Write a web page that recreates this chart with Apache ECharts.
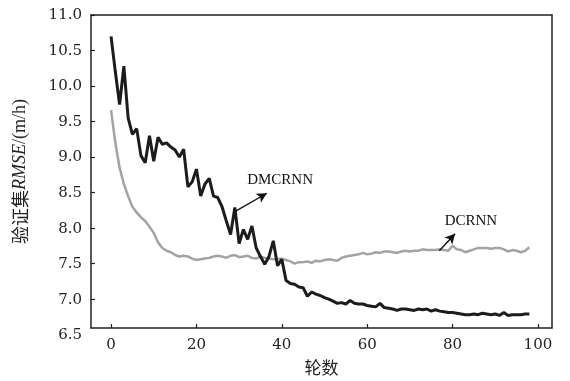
<!DOCTYPE html>
<html>
<head>
<meta charset="utf-8">
<script src="https://cdn.jsdelivr.net/npm/echarts@6/dist/echarts.min.js"></script>
<style>html,body{margin:0;padding:0;background:#fff;}#c{width:570px;height:381px;}</style>
</head>
<body>
<div id="c"></div>
<script>
const epochs = [];
for (let i = 0; i <= 98; i++) epochs.push(i);

const dmcrnn = [10.70,10.20,9.74,10.28,9.55,9.32,9.40,9.02,8.92,9.30,
  8.94,9.28,9.18,9.20,9.14,9.10,9.00,9.11,8.58,8.65,
  8.83,8.45,8.62,8.70,8.45,8.43,8.30,8.10,7.91,8.29,
  7.78,7.98,7.84,8.03,7.72,7.60,7.49,7.60,7.82,7.47,
  7.56,7.26,7.22,7.21,7.17,7.16,7.04,7.10,7.07,7.05,
  7.02,7.00,6.97,6.94,6.95,6.93,6.98,6.94,6.93,6.93,
  6.91,6.90,6.89,6.94,6.88,6.87,6.86,6.84,6.86,6.86,
  6.85,6.84,6.86,6.85,6.86,6.83,6.85,6.83,6.82,6.81,
  6.81,6.80,6.79,6.78,6.78,6.79,6.78,6.80,6.79,6.78,
  6.79,6.77,6.81,6.77,6.78,6.78,6.78,6.79,6.79];

const dcrnn = [9.66,9.20,8.85,8.62,8.45,8.30,8.22,8.15,8.10,8.02,
  7.93,7.80,7.72,7.68,7.66,7.62,7.60,7.61,7.60,7.57,
  7.55,7.56,7.57,7.58,7.60,7.61,7.60,7.58,7.61,7.62,
  7.59,7.60,7.61,7.58,7.57,7.60,7.58,7.57,7.56,7.56,
  7.57,7.55,7.53,7.50,7.52,7.52,7.53,7.51,7.54,7.53,
  7.55,7.56,7.55,7.54,7.58,7.60,7.61,7.62,7.63,7.65,
  7.63,7.64,7.66,7.65,7.67,7.67,7.66,7.65,7.67,7.68,
  7.67,7.68,7.68,7.70,7.69,7.69,7.69,7.70,7.69,7.68,
  7.75,7.70,7.69,7.66,7.68,7.70,7.72,7.72,7.72,7.71,
  7.72,7.72,7.70,7.67,7.69,7.68,7.66,7.68,7.73];

const xTicks = [0, 20, 40, 60, 80, 100];
const yTicks = [6.5, 7.0, 7.5, 8.0, 8.5, 9.0, 9.5, 10.0, 10.5, 11.0];

const seriesNames = ['DMCRNN', 'DCRNN'];
// annotation anchors in data coordinates: arrow start, arrow end, label
const dmArrow = [[29.0, 8.23], [36.5, 8.49]];
const dmLabel = [39.6, 8.68];
const dcArrow = [[76.9, 7.68], [80.6, 7.92]];
const dcLabel = [84.3, 8.10];

const xMin = -4.7, xMax = 103.3;
const yTop = 11.0;
const yLabelMin = 6.5;
// grid geometry
const gTop = 15, gBottom1 = 52, gBottom2 = 45.4, gLeft = 91, gRight = 18;
const H = 381;
const h1 = H - gTop - gBottom1, h2 = H - gTop - gBottom2;
const yDataMin = yTop - (yTop - yLabelMin) * h1 / h2;

const numFont = 'DejaVu Serif';
const cjk = 'Noto Sans CJK SC';
const axisCol = '#222';

function pairs(vals) { return epochs.map((e, i) => [e, vals[i]]); }

function annot(arrow, labelPos, text) {
  return {
    markLine: {
      silent: true,
      symbol: ['none', 'arrow'],
      symbolSize: [8, 10],
      lineStyle: { color: '#111', width: 1.4, type: 'solid' },
      label: { show: false },
      data: [[{ coord: arrow[0] }, { coord: arrow[1] }]]
    },
    markPoint: {
      silent: true,
      symbol: 'circle',
      symbolSize: 0,
      label: { show: true, position: 'inside', formatter: text, color: '#111',
        fontFamily: 'Liberation Serif', fontSize: 15 },
      data: [{ coord: labelPos, value: text }]
    }
  };
}

const frameLine = { show: true, onZero: false, lineStyle: { color: axisCol, width: 1.5 } };

const chart = echarts.init(document.getElementById('c'));
chart.setOption({
  animation: false,
  backgroundColor: '#fff',
  grid: [
    { left: gLeft, right: gRight, top: gTop, bottom: gBottom1 },
    { left: gLeft, right: gRight, top: gTop, bottom: gBottom2 }
  ],
  xAxis: [
    { type: 'value', gridIndex: 0, min: xMin, max: xMax, position: 'bottom',
      splitLine: { show: false },
      axisLine: frameLine,
      axisTick: { show: true, inside: true, length: 4, customValues: xTicks,
        lineStyle: { color: axisCol, width: 1.2 } },
      axisLabel: { show: true, customValues: xTicks, margin: 10, color: axisCol,
        fontFamily: numFont, fontSize: 15 },
      name: '轮数', nameLocation: 'middle', nameGap: 31,
      nameTextStyle: { fontFamily: cjk, fontSize: 17, color: axisCol } },
    { type: 'value', gridIndex: 0, min: xMin, max: xMax, position: 'top',
      splitLine: { show: false }, axisLine: frameLine,
      axisTick: { show: false }, axisLabel: { show: false } },
    { type: 'value', gridIndex: 1, min: xMin, max: xMax, show: false }
  ],
  yAxis: [
    { type: 'value', gridIndex: 0, min: yDataMin, max: yTop, position: 'left',
      splitLine: { show: false },
      axisLine: frameLine,
      axisTick: { show: true, inside: true, length: 4,
        customValues: yTicks.filter(v => v > yDataMin),
        lineStyle: { color: axisCol, width: 1.2 } },
      axisLabel: { show: false },
      name: '{a|验证集}{i|RMSE}{b|/(m/h)}', nameLocation: 'middle', nameGap: 62,
      nameTextStyle: { rich: {
        a: { fontFamily: cjk, fontSize: 18, color: axisCol },
        i: { fontFamily: 'Liberation Serif', fontStyle: 'italic', fontSize: 18, color: axisCol },
        b: { fontFamily: 'Liberation Serif', fontSize: 18, color: axisCol } } } },
    { type: 'value', gridIndex: 0, min: yDataMin, max: yTop, position: 'right',
      splitLine: { show: false }, axisLine: frameLine,
      axisTick: { show: false }, axisLabel: { show: false } },
    { type: 'value', gridIndex: 1, min: yLabelMin, max: yTop,
      splitLine: { show: false },
      axisLine: { show: false }, axisTick: { show: false },
      axisLabel: { show: true, customValues: yTicks, margin: 9, color: axisCol,
        fontFamily: numFont, fontSize: 15, formatter: v => v.toFixed(1) } }
  ],
  series: [
    Object.assign({ name: seriesNames[1], type: 'line', xAxisIndex: 0, yAxisIndex: 0,
      data: pairs(dcrnn), symbol: 'none', smooth: false,
      lineStyle: { color: '#a3a3a3', width: 2.5 } }, annot(dcArrow, dcLabel, seriesNames[1])),
    Object.assign({ name: seriesNames[0], type: 'line', xAxisIndex: 0, yAxisIndex: 0,
      data: pairs(dmcrnn), symbol: 'none', smooth: false,
      lineStyle: { color: '#1c1c1c', width: 3 } }, annot(dmArrow, dmLabel, seriesNames[0]))
  ]
});
</script>
</body>
</html>
